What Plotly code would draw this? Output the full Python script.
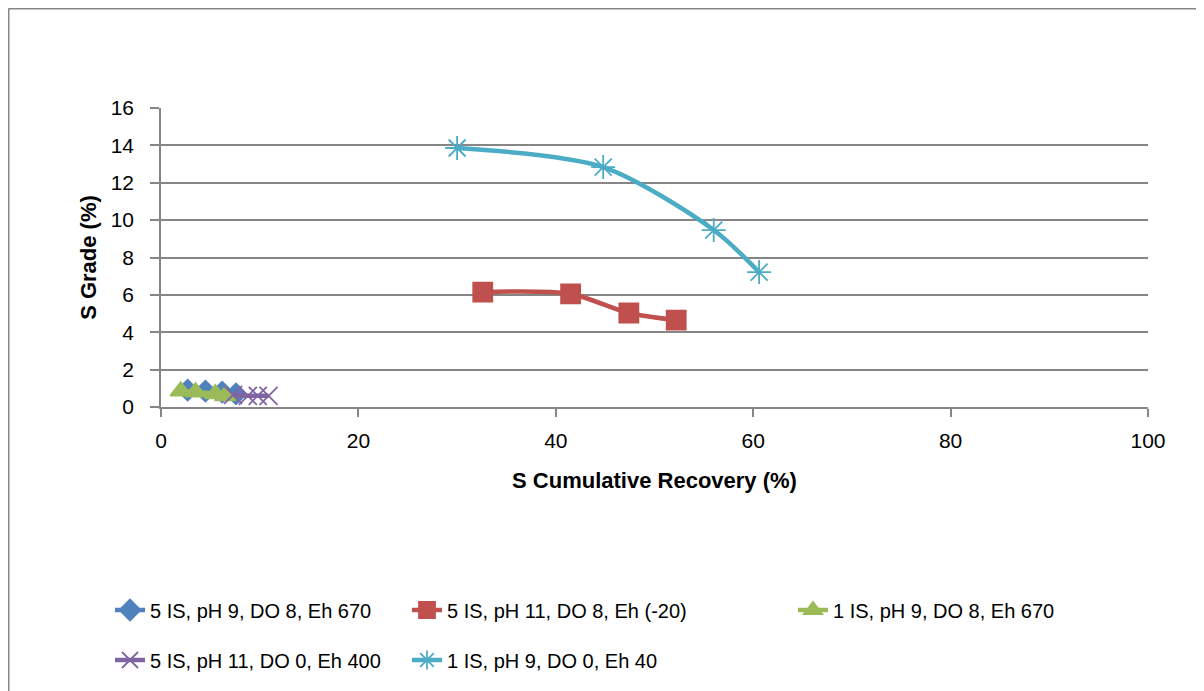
import plotly.graph_objects as go

# ---- data ----
names = [
    "5 IS, pH 9, DO 8, Eh 670",
    "5 IS, pH 11, DO 8, Eh (-20)",
    "1 IS, pH 9, DO 8, Eh 670",
    "5 IS, pH 11, DO 0, Eh 400",
    "1 IS, pH 9, DO 0, Eh 40",
]
x_blue = [2.7, 4.5, 6.2, 7.6]
y_blue = [0.9, 0.85, 0.8, 0.7]
x_red = [32.6, 41.5, 47.4, 52.2]
y_red = [6.15, 6.05, 5.03, 4.65]
x_green = [2.0, 3.5, 5.5, 6.5]
y_green = [0.85, 0.8, 0.7, 0.6]
x_purple = [7.3, 8.8, 9.8, 10.9]
y_purple = [0.65, 0.6, 0.6, 0.6]
x_cyan = [30.0, 44.8, 56.0, 60.6]
y_cyan = [13.86, 12.84, 9.47, 7.22]

x_ticks = [0, 20, 40, 60, 80, 100]
y_ticks = [0, 2, 4, 6, 8, 10, 12, 14, 16]

colors = ["#4F81BD", "#C0504D", "#9BBB59", "#8064A2", "#4BACC6"]
symbols = ["diamond", "square", "triangle-up", "x-thin-open", "asterisk-open"]
msizes = [16, 19, 18, 18, 20]
xs = [x_blue, x_red, x_green, x_purple, x_cyan]
ys = [y_blue, y_red, y_green, y_purple, y_cyan]

# page has an 8px body margin, so figure coords = screen coords - 8
OFF = 8
W, H = 1204 - OFF, 691 - OFF
L, R, T, B = 161 - OFF, 1148 - OFF, 108 - OFF, 407 - OFF
FONT = "Liberation Sans"

fig = go.Figure()
legend_pos = [(102, 602), (399, 602), (785, 602), (102, 652), (399, 652)]
for i in range(5):
    lg = "legend" if i == 0 else f"legend{i+1}"
    fig.add_trace(go.Scatter(
        x=xs[i], y=ys[i], name=names[i], mode="lines+markers",
        line=dict(color=colors[i], width=4.5, shape="spline", smoothing=0.8),
        marker=dict(symbol=symbols[i], size=msizes[i], color=colors[i],
                    line=dict(color=colors[i], width=1.8)),
        legend=lg,
    ))

layout_legends = {}
for i, (px, py) in enumerate(legend_pos):
    key = "legend" if i == 0 else f"legend{i+1}"
    layout_legends[key] = dict(
        x=px / W, y=1 - py / H, xref="container", yref="container",
        xanchor="left", yanchor="middle", orientation="h",
        font=dict(family=FONT, size=20, color="#000000"),
        bgcolor="rgba(0,0,0,0)", itemwidth=30,
    )

fig.update_layout(
    width=W, height=H,
    margin=dict(l=L, r=W - R, t=T, b=H - B),
    paper_bgcolor="white", plot_bgcolor="white",
    font=dict(family=FONT, color="#000000"),
    showlegend=True,
    **layout_legends,
)

fig.update_xaxes(
    range=[0, 100], tickvals=x_ticks, showgrid=False, zeroline=False,
    showline=True, linecolor="#868686", linewidth=1.5,
    ticks="outside", ticklen=8, tickcolor="#868686", tickwidth=1.5,
    tickfont=dict(family=FONT, size=21, color="#000000"),
    ticklabelstandoff=6,
    title=dict(text="<b>S Cumulative Recovery (%)</b>",
               font=dict(family=FONT, size=22, color="#000000"), standoff=22),
)
fig.update_yaxes(
    range=[0, 16], tickvals=y_ticks, showgrid=True, gridcolor="#868686",
    gridwidth=1.5, zeroline=False,
    showline=True, linecolor="#868686", linewidth=1.5,
    ticks="outside", ticklen=9, tickcolor="#868686", tickwidth=1.5,
    tickfont=dict(family=FONT, size=21, color="#000000"),
    ticklabelstandoff=12,
    title=dict(text="<b>S Grade (%)</b>",
               font=dict(family=FONT, size=22, color="#000000"), standoff=8),
)

# outer chart border (top and left edges visible)
bx = (0.5 - L) / (R - L)
by = (B - 0.5) / (B - T)
fig.add_shape(type="line", xref="paper", yref="paper",
              x0=bx, x1=(W + 10 - L) / (R - L), y0=by, y1=by,
              line=dict(color="#868686", width=2))
fig.add_shape(type="line", xref="paper", yref="paper",
              x0=bx, x1=bx, y0=by, y1=(B - H - 10) / (B - T),
              line=dict(color="#868686", width=2))

fig.write_html("out.html")
